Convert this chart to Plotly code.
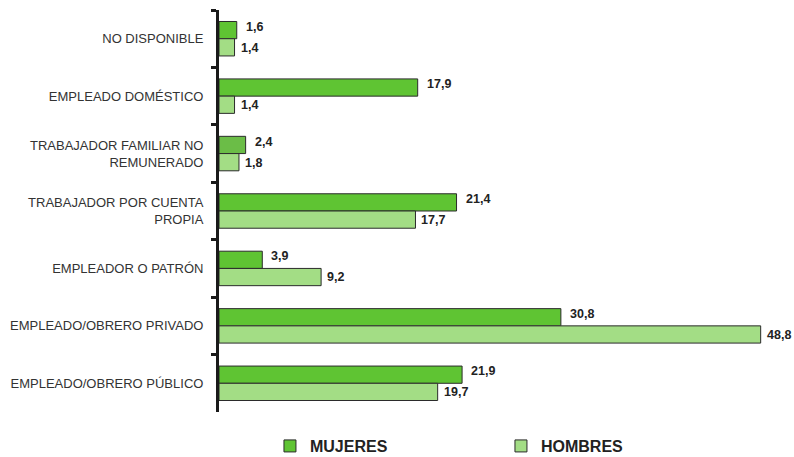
import plotly.graph_objects as go

categorias = [
    "NO DISPONIBLE",
    "EMPLEADO DOMÉSTICO",
    "TRABAJADOR FAMILIAR NO<br>REMUNERADO",
    "TRABAJADOR POR CUENTA<br>PROPIA",
    "EMPLEADOR O PATRÓN",
    "EMPLEADO/OBRERO PRIVADO",
    "EMPLEADO/OBRERO PÚBLICO",
]
mujeres = [1.6, 17.9, 2.4, 21.4, 3.9, 30.8, 21.9]
hombres = [1.4, 1.4, 1.8, 17.7, 9.2, 48.8, 19.7]

C_MUJ = "#5fc433"
C_MUJ_ALT = "#6bbd47"
C_HOM = "#a3dd85"
mujer_colors = [C_MUJ, C_MUJ, C_MUJ_ALT, C_MUJ, C_MUJ, C_MUJ, C_MUJ]
FONT = "Liberation Sans, Arial"

def fmt(v):
    return f"{v:.1f}".replace(".", ",")

fig = go.Figure()
fig.add_trace(go.Bar(
    name="MUJERES", y=categorias, x=mujeres, orientation="h",
    marker=dict(color=mujer_colors, line=dict(color="#2b2b2b", width=1)),
))
fig.add_trace(go.Bar(
    name="HOMBRES", y=categorias, x=hombres, orientation="h",
    marker=dict(color=C_HOM, line=dict(color="#2b2b2b", width=1)),
))

annotations = []
for cat, v in zip(categorias, mujeres):
    annotations.append(dict(
        x=v, y=cat, text="<b>" + fmt(v) + "</b>", showarrow=False,
        xanchor="left", yanchor="middle", xshift=8, yshift=12, borderpad=0,
        font=dict(family=FONT, size=12.5, color="#222222"),
    ))
for cat, v in zip(categorias, hombres):
    annotations.append(dict(
        x=v, y=cat, text="<b>" + fmt(v) + "</b>", showarrow=False,
        xanchor="left", yanchor="middle", xshift=5, yshift=-9, borderpad=0,
        font=dict(family=FONT, size=12.5, color="#222222"),
    ))

fig.update_layout(
    width=794, height=457,
    margin=dict(l=219, r=20, t=10, b=45),
    paper_bgcolor="white", plot_bgcolor="white",
    barmode="group", bargap=0.4, bargroupgap=0,
    font=dict(family=FONT, size=13, color="#333333"),
    xaxis=dict(range=[0, 50], visible=False, showgrid=False, zeroline=False, automargin=False),
    yaxis=dict(
        autorange="reversed", showgrid=False, zeroline=False, automargin=False,
        showline=True, linecolor="#1a1a1a", linewidth=3,
        ticks="outside", tickson="boundaries", ticklen=5, tickwidth=3, tickcolor="#1a1a1a",
        tickfont=dict(family=FONT, size=13, color="#333333"),
        ticklabelstandoff=10,
    ),
    legend=dict(
        orientation="h", xref="container", yref="container",
        x=0.340, xanchor="left", y=0.024, yanchor="middle",
        entrywidth=186, entrywidthmode="pixels",
        font=dict(family=FONT, size=16, color="#222222", weight="bold"),
        traceorder="normal", bgcolor="rgba(0,0,0,0)",
    ),
    annotations=annotations,
    showlegend=True,
    hovermode=False,
)

# remove the default page margin so the figure fills the 794x457 window exactly
fig.write_html(
    "out.html",
    config={"displayModeBar": False},
    post_script="document.body.style.margin='0';document.documentElement.style.overflow='hidden';",
)
